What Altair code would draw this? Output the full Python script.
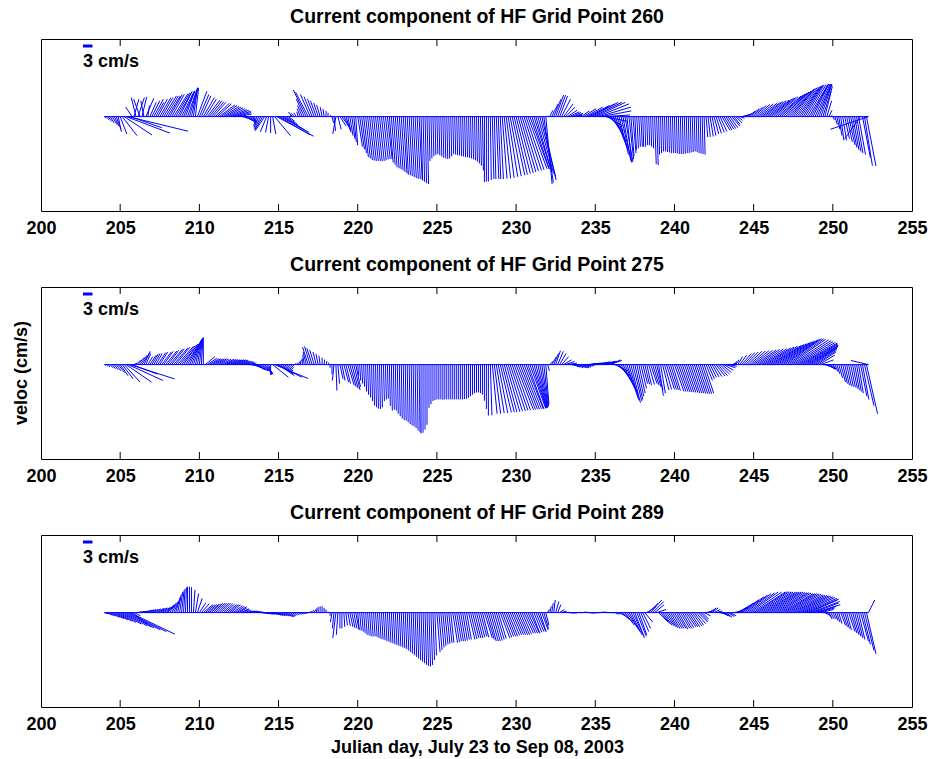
import altair as alt
import pandas as pd

# Stick (feather) plots of HF-radar surface currents at three grid points.
# One stick every 3 hours starting at Julian day 204.0; u = east, v = north (cm/s).
FIRST_DAY = 204.0
STEP = 0.125
DAYS_PER_CMS = 0.2          # horizontal extent of 1 cm/s, in days (keeps sticks isotropic)
X_DOMAIN = [200, 255]
Y_DOMAIN = [-29.8, 24.5]
X_TICKS = list(range(200, 256, 5))
SCALE_SPEED = 3             # reference arrow, cm/s
SCALE_START = 202.65

TITLES = [
    "Current component of HF Grid Point 260",
    "Current component of HF Grid Point 275",
    "Current component of HF Grid Point 289",
]

# ---- Grid point 260 (one row per day, 204 .. 252) ----
u_260 = [
    0.5, 0.8, 1, 1.2, 1.5, 1.5, 1.5, 1,
    2.1, 4.7, 8.8, 13.8, 18.9, 10, -2, 1.5,
    -1.5, 2, -2, 1.5, -1, 2.5, 0.5, 2,
    2.5, 3, 2.5, 3, 3.5, 3.5, 4, 4,
    4, 4, 4, 4.5, 4.5, 4.5, 4, 4,
    3.5, 3, 3, 2.5, 2, 1.3, 1, 3,
    3, 3, 3.5, 3.5, 4, 4, 4, 4,
    4.5, 4.5, 5, 5, 5, 5, 5, 5,
    5, 5, 5, 4.5, 4, 3.5, 3, 3,
    3, 2.5, 2, 1, 0, -1, -1.5, -2,
    -2.5, -3, -2, -1, 0, 1, 5, 11.7,
    10, 9, 7, 5, 3.5, 2, 0, -1.3,
    -1, -0.8, -0.5, -1, -1.5, -2.5, -4.1, -4,
    -3.1, -2.6, -2.1, -1.8, -1.4, -1.1, -0.6, -0.35,
    0, 0, 0.3, 0.5, 0.5, -1, 1, 2,
    2.5, 2, 1.5, 1, 1, 1, 0.8, 0.6,
    1.5, 1.5, 1.5, 1.5, 1.5, 1.5, 1.5, 1.5,
    1.5, 1.5, 1.5, 1.5, 1.5, 1.5, 1.5, 1.5,
    1.2, 1.2, 1.2, 1.2, 1.2, 1.2, 1.2, 1.2,
    1, 1, 1, 1, 1, 1, 1, 1,
    0.5, 0.5, 0.5, 0.5, 0.3, 0.3, 0.3, 0.3,
    0.3, 0.3, 0.3, 0.3, 0.3, 0.3, 0.3, 0.3,
    0.3, 0.3, 0.3, 0.3, 0.3, 0.3, 0.3, 0.3,
    0.3, 0.3, 0.3, 0.3, 0.3, 0.3, 0.3, 0.3,
    0, 0, 0, 0.3, 0.5, 0.5, 0.8, 0.8,
    1, 1.5, 2, 2.5, 3, 3.5, 4, 4.2,
    4.5, 4.8, 5, 5.2, 5.5, 5.7, 6, 6,
    5.5, 5.5, 5, 5, 5, 4.5, 3, 2,
    0, 1, 2, 2.3, 2.5, 2.5, 2.5, 2.8,
    3, 3, 3, 3, 3, 3, 2, 1.5,
    1, 2.5, 4, 5.5, 7, 8, 8.5, 9,
    9.5, 10, 10, 9.5, 8.5, 7, 5, 4.5,
    4, 4, 3.5, 3.5, 3, 3, 2.5, 2.5,
    1.5, 1.5, 1, 1, 0.5, 0.5, 0.5, 0.5,
    0.3, 0.3, 0.3, 0.3, 0.3, 0.3, 0.5, 0.5,
    0.3, 0.3, 0.3, 0.3, 0.3, 0.3, 0.3, 0.3,
    0.3, 0.3, 0.3, 0.3, 0.3, 0.3, 0.3, 0.3,
    0.3, 0.3, 0.3, 0.3, 0.3, 0.3, 0.3, 0.3,
    0.5, 0.7, 1, 1.2, 1.5, 1.7, 2, 2.2,
    2.5, 2.5, 2.5, 2.5, 2.5, 2.5, 2, 2,
    1.5, 1.5, 1.5, 1.8, 2, 2.5, 3, 3.5,
    4, 4.5, 5, 5.5, 6, 6.2, 6.5, 6.8,
    7, 7, 7, 7.2, 7.5, 7.5, 7.5, 7.5,
    7.5, 7.5, 7.5, 7.2, 7, 7, 7, 6.8,
    6.5, 6.2, 6, 6, 6, 5.5, 5, 4.8,
    4.5, 4, 3.5, 3, 2, 1.5, 1, 0.5,
    0.5, 0.8, 1, 1, 1, 1.2, 1.5, 1.8,
    2, 2, 2, 2, 2, 2.2, -5, 2.5,
    2.5, 3, -12,
]
v_260 = [
    -0.5, -1, -1.5, -2, -2.5, -3, -4, -4.8,
    -5.5, -6, -5.8, -5.2, -4.6, -3.5, 3, 5.5,
    6, 6, 5.5, 6.2, 5, 5.8, 3.5, 4.5,
    5, 5.5, 4.5, 5.5, 6, 6, 6.5, 6.5,
    6.5, 7, 7, 7.2, 7.5, 7.8, 8, 8,
    8, 8.2, 8.5, 8.8, 9, 9.2, 9, 8,
    7, 6.5, 6, 5.5, 5.2, 5, 4.7, 4.5,
    4.2, 4, 3.7, 3.5, 3.2, 3, 2.8, 2.5,
    2.2, 2, 1.7, 1.3, 0.8, 0, -1, -1.5,
    -2, -1.8, -1.5, -2, -2.5, -3, -3.5, -4,
    -4.2, -4.5, -4.8, -5, -5.2, -5.5, -6, -6.2,
    -5.8, -5, -4.2, -3.5, -2.5, -1.5, 0.5, 1.5,
    1, 1.2, 1.5, 2.5, 3.5, 5.5, 8.4, 7.7,
    7, 6.3, 5.6, 5, 4.3, 3.7, 3, 2.4,
    1.8, 1.2, 0.5, -2, -4.5, -5.5, -4, -3,
    -3.5, -4, -4.5, -5, -6, -7, -8, -9,
    -9.5, -10.3, -11.5, -12.8, -13.2, -13.7, -13.9, -14,
    -14, -14, -14.1, -14, -13.8, -13.5, -13.4, -13.4,
    -14.5, -15.2, -16, -16.3, -16.6, -17, -17.5, -17.9,
    -18.3, -18.5, -18.8, -19.1, -19.4, -19.6, -19.7, -20,
    -20.2, -20.6, -21, -21.3, -14, -13.2, -12.5, -12.1,
    -11.8, -12.2, -12.6, -13, -13.2, -13.4, -13.2, -12.5,
    -11.8, -12, -12.2, -12.3, -12.5, -12.6, -12.8, -12.9,
    -13, -13.2, -13.5, -13.8, -14.2, -14.8, -15.5, -17,
    -20.7, -20.5, -20.5, -20, -19.7, -19.7, -19.7, -19.7,
    -19.7, -19.6, -19.5, -19.3, -19, -18.8, -18.5, -18.3,
    -18, -17.8, -17.5, -17.2, -17, -16.8, -16.5, -16.5,
    -16.5, -17, -17.5, -18, -19, -20, -20.8, -21.3,
    0.3, 2, 4, 5.5, 6.8, 6.8, 6.5, 5.5,
    4, 3, 2, 1.5, 1.3, 1, 0.5, 0.5,
    1, 1.8, 2.5, 3, 3.5, 4, 4.5, 4.5,
    4.5, 4, 3, 1.8, 0.5, -1.5, -3, -4.5,
    -6, -7.5, -9, -10.5, -12, -13, -14, -14.3,
    -14.5, -13.5, -12.5, -11.5, -10.5, -10, -9.5, -9.5,
    -9.5, -9.5, -9, -9, -9.5, -10, -15, -15.3,
    -12, -11.5, -11, -11, -11.2, -11.3, -11.5, -11.5,
    -11.5, -11.6, -11.8, -11.8, -11.8, -11.7, -11.5, -11.5,
    -11.3, -11.2, -11, -11.2, -11.5, -11.7, -11.8, -12,
    -6.5, -6.4, -6.3, -6, -5.5, -5.3, -5, -4.7,
    -4.3, -4.2, -4, -3.8, -3.5, -3, -2.5, -2,
    -1.2, -0.5, 0.3, 0.7, 1, 1.8, 2.5, 3,
    3.5, 3.8, 4, 4.2, 4.5, 4.8, 5, 5.2,
    5.5, 5.8, 6, 6.3, 6.5, 6.8, 7.2, 7.5,
    7.8, 8.1, 8.4, 8.7, 9, 9.2, 9.4, 9.6,
    9.8, 9.9, 10, 10.1, 10.2, 10.2, 10.3, 10.3,
    10.3, 10.3, 10.2, 9.5, 8, 5, 2, 0.5,
    -1, -2.5, -4, -6, -7.5, -7.5, -7, -8,
    -9, -9.8, -10.5, -11, -11.5, -12, -7, -13,
    -15.5, -15.6, -4,
]

# ---- Grid point 275 ----
u_275 = [
    0.3, 0.5, 0.5, 0.8, 1, 1.2, 1.5, 2,
    2.5, 3.5, 5, 8, 11, 14, 8, 1,
    1.5, 2, 2.3, 2.5, 2, 1.5, 1.5, 2,
    2, 2, 2, 2.5, 2.5, 3, 3, 3.5,
    3.5, 4, 4, 4.5, 4.5, 5, 5, 5,
    4.5, 4.5, 4, 3.5, 3, 2.5, 2, 1.5,
    1, 0.5, 0, 3, 3, 3, 3, 3,
    3, 3, 3, 3.2, 3.5, 3.5, 3.5, 3.5,
    3.5, 3.5, 3.5, 3.5, 3, 3, 3, 3,
    3, 3, 3, 3, 3, 3, 3, 3,
    3, 2.5, 2, 1, 0, 5, 10.6, 8,
    5, 4, 3, 2.5, 2, 1.5, 1, 0.5,
    0.5, 0.5, 0.5, 0.3, 0, -0.5, -1, -1.8,
    -1.8, -1.7, -1.4, -1, -0.7, -0.4, 0, 0.2,
    0.3, 0.3, 0, 0, -0.5, 0.3, 0.5, 1,
    1, 1.5, 1.5, 2, 2, 2, 2, 1.5,
    0.3, 0.3, 0.3, 0.3, 0.3, 0.3, 0.3, 0.3,
    0.3, 0.3, 0.3, 0.3, 0.3, 0.3, 0.3, 0.3,
    0.3, 0.3, 0.3, 0.3, 0.3, 0.3, 0.3, 0.3,
    0.3, 0.3, 0.3, 0.3, 0.3, 0.3, 0.3, 0.3,
    0, 0, 0, 0, 0, 0, 0, 0,
    0, 0, 0, 0, 0, 0, 0, 0,
    0, 0, 0, 0, 0, 0, 0, 0,
    0, 0, 0, 0, 0, 0, 0, 0,
    0, 0, 0, 0.5, 1.5, 2, 2.5, 3,
    3.5, 3.8, 4, 4.3, 4.5, 4.8, 5, 5.2,
    5.5, 5.5, 5.5, 5.5, 5.5, 5.5, 5, 5,
    4.5, 4, 3.5, 3, 2.5, 2, 1.5, 1,
    0.5, 1, 1.5, 1.5, 1.5, 1.8, 2, 2.2,
    2.5, 2.8, 3, 3, 2.5, 2, 2.5, 3,
    3, 3, 3, 3, 3, 3, 3, 3,
    3, 3, 3, 3, 3.5, 3.5, 4, 4,
    3, 3.5, 4, 4, 4, 4, 4, 4,
    3.5, 3.2, 3, 2.8, 2.5, 2.2, 2, 1.8,
    1.5, 1.5, 1.5, 1.8, 2, 2, 2, 2,
    1.5, 1.5, 2, 2.2, 2.5, 2.5, 2.5, 2.5,
    3, 3, 3, 3, 3, 3, 3, 3,
    3, 3, 3, 3, 3, 3, 3, 3,
    2, 2, 2, 2.2, 2.5, 2.8, 3, 3,
    3, 3, 3, 2.8, 2, 1.5, 1, 1,
    1.5, 2.2, 3, 3.5, 4, 4.5, 5, 5.5,
    6, 6.5, 7, 7.5, 8, 8.5, 9, 9.5,
    10, 10.2, 10.5, 10.8, 11, 11.2, 11.5, 11.5,
    11.5, 11.5, 11.5, 11.8, 12, 12, 12, 12,
    11.5, 11, 10.5, 9.8, 9, 8.2, 7.5, 6.8,
    6, 5, 4, 3.5, 3, 2.5, 2, 1.5,
    1, 1, 1, 1.2, 1.5, 1.5, 1.5, 1.5,
    1.5, 1.5, 1.5, 1.5, 1.5, 1.5, 2, 2,
    3, 3.5, -5.5,
]
v_275 = [
    -0.3, -0.5, -0.8, -1, -1.3, -1.6, -2, -2.5,
    -3.5, -4.5, -5.5, -5.5, -5, -4.5, -3, 0.5,
    1.5, 2.3, 3, 3.8, 4.2, 3.5, 2.5, 3,
    3.3, 3.5, 3.5, 3.8, 4, 4, 4.2, 4.3,
    4.5, 4.8, 5, 5.3, 5.5, 5.8, 6, 6.2,
    6.5, 6.8, 7, 7.2, 7.5, 7.8, 8, 8.1,
    8.3, 8.4, 8.6, 2.5, 2, 1.8, 1.8, 1.8,
    1.8, 1.8, 1.8, 1.7, 1.7, 1.6, 1.6, 1.5,
    1.5, 1.5, 1.5, 1.4, 1.2, 1.1, 1, 0.8,
    0.5, 0, -0.5, -1, -1.5, -1.8, -2, -2.2,
    -2.5, -2.8, -3, -3.2, -3.3, -4, -4.4, -4,
    -3.5, -3, -2.5, -2.2, -2, -1.5, -1, -0.5,
    0.3, 0.6, 1, 1.5, 2, 3, 4, 5.5,
    5.7, 5.2, 4.6, 4, 3.4, 2.8, 2.2, 1.6,
    1.1, 0.6, -1, -3, -5, -8.2, -6, -4.5,
    -5, -5.5, -6, -6.5, -7, -7.5, -8, -7,
    -3.5, -5, -6, -7, -8.5, -9.5, -10.4, -11.5,
    -12.9, -13.5, -13.9, -14, -13.5, -11.5, -11, -10.7,
    -13, -14.5, -14.2, -14.5, -15.5, -16.3, -17, -17.5,
    -17.7, -18.2, -18.8, -19.2, -19.5, -20, -20.8, -21.3,
    -21.8, -21.5, -20.5, -19, -13.6, -12.5, -11.5, -11.2,
    -11, -11, -11, -11.1, -11, -11, -11, -11,
    -11, -11, -11, -11, -11, -11, -10.9, -10.8,
    -10.5, -10, -9.5, -9, -8.8, -8.8, -9, -9.5,
    -11.4, -14, -16.1, -16, -15.5, -15.5, -15.3, -15.3,
    -15.1, -15, -15, -14.9, -14.7, -14.6, -14.5, -14.4,
    -14.3, -14.2, -14.1, -14.1, -14, -14, -13.9, -13.9,
    -13.7, -13.7, -13.6, -13.6, -13.5, -13.3, -13, -12.5,
    -2, 1, 2.5, 3.5, 4.4, 4.2, 3.5, 2.5,
    1.5, 1, 0.5, 0, -0.5, -0.8, -1, -1,
    -1, -0.8, -0.5, -0.2, 0.3, 0.4, 0.5, 0.5,
    0.5, 0.7, 0.8, 0.9, 1, 1.1, 1.2, 1.3,
    1.5, 0, -2, -3.5, -5, -6.5, -8, -9,
    -10.5, -11.3, -12, -11.5, -11, -10, -9, -7.5,
    -6, -6.2, -6.5, -6.3, -6, -6.5, -7, -8,
    -9.8, -9, -8, -7.8, -7.8, -7.9, -8, -8.2,
    -8.5, -8.5, -8.5, -8.6, -8.7, -8.7, -8.8, -8.8,
    -9, -9, -9, -9.1, -9.2, -9.2, -9.2, -9,
    -5, -4.5, -4, -3.9, -3.8, -3.6, -3.5, -3,
    -2.5, -1.8, -1, -0.5, 0, 0.5, 1, 1.5,
    2.5, 3, 3.5, 3.8, 4, 4.2, 4.3, 4.4,
    4.5, 4.6, 4.8, 4.9, 5, 5.2, 5.5, 5.8,
    6, 6.3, 6.6, 6.9, 7.2, 7.5, 7.8, 8,
    8.2, 8.1, 8, 7.8, 7.6, 7.3, 7, 6.8,
    6.5, 6.3, 6, 5.8, 5.5, 5.2, 5, 4.5,
    4, 3, 1.5, 0, -1, -1.3, -1.5, -1.5,
    -1.5, -2.2, -3, -4.2, -5.5, -6, -6.5, -6.8,
    -7, -7.2, -7.5, -8, -8.5, -9, -10, -11,
    -13, -15.5, 1.3,
]

# ---- Grid point 289 ----
u_289 = [
    1.2, 1.9, 2.2, 2.9, 3.6, 4.3, 5, 5.6,
    6.7, 8, 9.4, 10.8, 12.1, 14.1, 5.9, 2,
    2, 2, 2, 2, 2, 2, 2, 2,
    2, 2.2, 2.5, 2.5, 2.5, 2.8, 3, 3,
    2, 2, 2, 2, 1.5, 1.2, 1, 0.8,
    0.5, 0.3, 0, 0, 0, 0.5, 1, 1.5,
    2, 2.5, 3, 3, 3, 3, 3, 3,
    3, 3, 3, 3, 3, 3, 3, 3,
    3, 3, 3, 3, 2.5, 2.5, 2, 2,
    2, 2, 2, 2, 2, 2, 2, 2,
    2, 2, 2, 2, 2, 2, 2, 2,
    2, 2, 2, 2, 2, 1.8, 1.5, 1.2,
    1, 1, 1, 1, 1, 1, 1, 1,
    0.5, 0.5, 0.5, 0.3, 0, 0, 0, 0,
    0, 0, 0, -0.5, -0.5, -1, -0.5, 0,
    0, 0.3, 0.5, 0.8, 1, 1, 1, 1,
    0.5, 0.5, 0.5, 0.5, 0.5, 0.5, 0.5, 0.5,
    0.5, 0.5, 0.5, 0.5, 0.5, 0.5, 0.5, 0.5,
    0.5, 0.5, 0.5, 0.5, 0.5, 0.5, 0.5, 0.5,
    0.5, 0.5, 0.5, 0.5, 0.5, 0.5, 0.5, 0.5,
    0.5, 0.5, 0.5, 0.5, 0.5, 0.5, 0.5, 0.5,
    1, 1, 1, 1, 1, 1, 1, 1,
    1.5, 1.5, 1.5, 1.5, 1.5, 1.5, 1.5, 1.5,
    2, 2, 2, 2, 2, 2, 2, 2,
    2.5, 2.5, 2.5, 2.5, 2.5, 2.5, 2.5, 2.5,
    3, 3, 3, 3, 3, 3, 3, 3,
    3, 3, 3, 3, 3, 3, 3, 3,
    2.5, 2.5, 2.5, 2.5, 2, 2, 1.5, 1,
    0.5, 0.5, 0.5, 0.5, 1, 1, 1.5, 1.5,
    1, 1, 1, 1, 1, 1, 1, 1,
    1, 1, 1, 1, 1, 1, 1, 1,
    1, 1, 1, 1, 1, 1, 1, 1,
    1, 1, 1, 1, 2, 2.5, 3, 3,
    3.5, 3.5, 3.5, 3.5, 3, 3, 2.5, 2.5,
    2.5, 2.5, 3, 3, 3.5, 3.5, 3, 3,
    3, 3, 3, 3, 3, 3, 3, 3,
    3, 3, 3, 3, 3, 3, 3, 3,
    3, 3, 3, 3, 3, 2.5, 2, 2,
    2, 2, 2, 2, 2, 2, 2, 2,
    2, 2, 2, 2, 2, 2.5, 3, 4,
    5, 6, 7, 7.5, 8, 8.5, 9, 9.5,
    10, 10, 10, 10, 10, 10, 10, 10,
    10, 10, 10, 10, 10, 10, 10, 10,
    10, 10, 10, 10, 10, 10, 10, 10,
    10, 10, 10, 10, 9, 9, 8, 8,
    6, 5, 4, 3, 2, 1.5, 1, 1,
    1, 1, 1, 1, 1.5, 1.5, 1.5, 1.5,
    2, 2, 2, 2, 2, 2, 2.5, 2.5,
    3, 3, 2,
]
v_289 = [
    -0.4, -0.8, -1.1, -1.5, -1.9, -2.3, -2.7, -3.1,
    -3.6, -4.2, -4.8, -5.4, -6, -6.8, -4.5, -1,
    0.2, 0.3, 0.4, 0.5, 0.6, 0.8, 0.9, 1,
    1, 1.2, 1.3, 1.4, 1.5, 1.7, 2, 2.2,
    2.5, 3, 3.5, 4.2, 5, 5.8, 6.5, 7,
    7.5, 7.9, 8.2, 8.2, 8, 7.2, 6, 4.5,
    3, 2.8, 2.5, 2.5, 2.5, 2.6, 2.8, 2.9,
    3, 3, 3, 3, 2.8, 2.7, 2.5, 2.5,
    2.5, 2.2, 2, 1.8, 1.5, 1.2, 1, 0.8,
    0.5, 0.5, 0.5, 0.4, 0.3, 0.2, 0, -0.1,
    -0.3, -0.4, -0.5, -0.5, -0.5, -0.6, -0.8, -0.9,
    -1, -1, -1, -1.1, -1.3, -1.3, -1.2, -1,
    -0.8, -0.7, -0.5, -0.4, -0.3, -0.2, 0, 0.2,
    0.5, 0.8, 1, 1.4, 1.8, 2, 2, 1.5,
    1, 0.3, -1, -3, -5, -8, -7, -5,
    -5, -4.5, -4, -4.2, -4.5, -4.8, -5, -5.2,
    -5.5, -5.7, -6, -6.5, -7, -7.2, -7.5, -7.5,
    -7.5, -7.7, -8, -8.3, -8.5, -8.7, -9, -9.2,
    -9.5, -9.7, -10, -10.2, -10.5, -10.7, -11, -11.2,
    -11.5, -12, -12.5, -13, -13.5, -14, -14.5, -15,
    -15.5, -16, -16.5, -16.8, -17, -16.5, -15, -13.5,
    -12.5, -11.8, -11, -10.5, -10, -9.8, -9.5, -9.5,
    -9.5, -9.3, -9, -9, -9, -8.8, -8.5, -8.5,
    -8.5, -8.3, -8, -8, -8, -7.8, -7.5, -7.8,
    -8, -8.5, -9, -9, -9, -8.8, -8.5, -8.2,
    -8, -7.8, -7.5, -7.5, -7.5, -7.2, -7, -7,
    -7, -7, -7, -6.8, -6.5, -6.5, -6.5, -6.5,
    -6.5, -6.2, -6, -6, -6, -5.5, -5, -4,
    1, 2, 3, 4, 3.5, 2.5, 1, 0.5,
    0.2, 0.1, 0, -0.1, -0.2, -0.1, 0, 0.1,
    0, 0.1, 0.2, 0.1, 0, -0.1, -0.2, -0.1,
    0, 0, 0.1, 0.2, 0.2, 0.1, 0, 0,
    0, 0, -0.5, -0.5, -1, -2, -3, -4,
    -5, -6, -7, -7.5, -8, -7.5, -7, -6,
    -5, -3, 2, 3, 4, 3.5, 2.5, 1,
    -3, -3.5, -4, -4.2, -4.5, -4.8, -5, -5,
    -5, -5, -5.2, -5, -5, -4.8, -4.5, -4.5,
    -4.5, -4.2, -4, -3.5, -3, -2.5, -2, -1,
    0.5, 1, 1.5, 1.5, 1, 0.5, 0, -0.5,
    -1, -1.2, -1.5, -1.2, -1, 0, 0.5, 1.5,
    3, 4, 5, 5.5, 6, 6.2, 6.5, 6.5,
    6.5, 6.6, 6.6, 6.5, 6.5, 6.4, 6.5, 6.5,
    6.5, 6.5, 6.4, 6.3, 6.3, 6.2, 6, 6,
    6, 5.9, 5.8, 5.6, 5.5, 5.4, 5.3, 5.2,
    5, 4.8, 4.5, 4.3, 4, 3.5, 3, 2.5,
    2, 1.5, 1, 0, -1, -1.5, -2, -2,
    -2, -2.5, -3, -3.5, -4, -4.5, -5, -5.5,
    -6, -6.5, -7, -7.5, -8, -8.5, -9, -10,
    -12, -13, 4,
]

PANEL_W, PANEL_H = 871, 172
GAP = 76
PAD_LEFT, PAD_TOP, PAD_RIGHT, PAD_BOTTOM = 40.5, 38.5, 20.5, 52.5
BLUE = "#0000ff"
FONT = "Liberation Sans"


def stick_table(u, v):
    rows = []
    for i, (ue, vn) in enumerate(zip(u, v)):
        day = FIRST_DAY + i * STEP
        rows.append({"day": day, "tip_day": day + ue * DAYS_PER_CMS, "zero": 0.0, "v": vn})
    return pd.DataFrame(rows)


def frame_rule(y_px):
    # invisible horizontal rule fixing the outer extent of the figure
    return alt.Chart(pd.DataFrame({"k": [0]})).mark_rule(strokeOpacity=0, strokeWidth=1).encode(
        x=alt.value(-PAD_LEFT), x2=alt.value(PANEL_W + PAD_RIGHT), y=alt.value(y_px))


X_SCALE = alt.Scale(domain=X_DOMAIN, nice=False, zero=False)
Y_SCALE = alt.Scale(domain=Y_DOMAIN, nice=False, zero=False)
X_AXIS = alt.Axis(values=X_TICKS, ticks=False, domain=False, grid=False, format="d",
                  labelFontSize=18, labelFontWeight="bold", labelColor="black", labelFont=FONT,
                  labelFlush=False, labelPadding=8.5, title=None)


def xenc(field="day"):
    return alt.X(f"{field}:Q", scale=X_SCALE, axis=X_AXIS)


def panel(title, u, v, y_label=None, x_label=None, top=False, bottom=False):
    sticks = stick_table(u, v)

    axis_line = pd.DataFrame({"day": [sticks["day"].min()], "day2": [sticks["day"].max()], "zero": [0.0]})
    baseline = alt.Chart(axis_line).mark_rule(color=BLUE, strokeWidth=1).encode(
        x=xenc(), x2="day2:Q",
        y=alt.Y("zero:Q", scale=Y_SCALE, axis=None),
    )

    lines = alt.Chart(sticks).mark_rule(color=BLUE, strokeWidth=1).encode(
        x=xenc(), x2="tip_day:Q",
        y=alt.Y("zero:Q", scale=Y_SCALE, axis=None), y2="v:Q",
    )

    tick_df = pd.DataFrame({"day": X_TICKS[1:-1]})
    ticks_bottom = alt.Chart(tick_df).mark_rule(color="black", strokeWidth=1).encode(
        x=xenc(), y=alt.value(PANEL_H), y2=alt.value(PANEL_H - 7))
    ticks_top = alt.Chart(tick_df).mark_rule(color="black", strokeWidth=1).encode(
        x=xenc(), y=alt.value(0), y2=alt.value(7))

    ref = pd.DataFrame({"day": [SCALE_START], "day2": [SCALE_START + SCALE_SPEED * DAYS_PER_CMS],
                        "label": [f"{SCALE_SPEED} cm/s"]})
    ref_bar = alt.Chart(ref).mark_rule(color=BLUE, strokeWidth=3).encode(
        x=xenc(), x2="day2:Q", y=alt.value(7))
    ref_text = alt.Chart(ref).mark_text(align="left", baseline="alphabetic", fontSize=18,
                                        fontWeight="bold", font=FONT, color="black").encode(
        x=xenc(), y=alt.value(28), text="label:N")

    one = pd.DataFrame({"t": [title]})
    title_mark = alt.Chart(one).mark_text(align="center", baseline="alphabetic", fontSize=19.5,
                                          fontWeight="bold", font=FONT, color="black").encode(
        x=alt.value(PANEL_W / 2 + 0.5), y=alt.value(-16), text="t:N")

    layers = [baseline, lines, ticks_bottom, ticks_top, ref_bar, ref_text, title_mark]

    if y_label:
        yl = pd.DataFrame({"t": [y_label]})
        layers.append(alt.Chart(yl).mark_text(align="center", baseline="middle", angle=270,
                                              fontSize=18, fontWeight="bold", font=FONT,
                                              color="black").encode(
            x=alt.value(-19), y=alt.value(86), text="t:N"))
    if x_label:
        xl = pd.DataFrame({"t": [x_label]})
        layers.append(alt.Chart(xl).mark_text(align="center", baseline="alphabetic",
                                              fontSize=18, fontWeight="bold", font=FONT,
                                              color="black").encode(
            x=alt.value(PANEL_W / 2 + 1), y=alt.value(PANEL_H + 46), text="t:N"))
    if top:
        layers.append(frame_rule(-PAD_TOP))
    if bottom:
        layers.append(frame_rule(PANEL_H + PAD_BOTTOM))

    return alt.layer(*layers).properties(width=PANEL_W, height=PANEL_H)


chart = alt.vconcat(
    panel(TITLES[0], u_260, v_260, top=True),
    panel(TITLES[1], u_275, v_275, y_label="veloc (cm/s)"),
    panel(TITLES[2], u_289, v_289, x_label="Julian day, July 23 to Sep 08, 2003", bottom=True),
    spacing=GAP,
    bounds="flush",
).properties(
    padding=0,
    background="white",
).configure(
    font=FONT
).configure_view(
    stroke="black", strokeWidth=1
)

chart.save("out.html", embed_options={"renderer": "svg", "actions": False})
